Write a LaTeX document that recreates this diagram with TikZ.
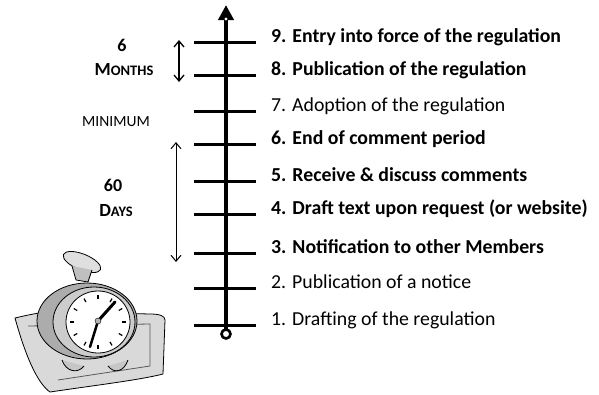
\documentclass[tikz,border=0pt]{standalone}
\usepackage{fontspec}
\setmainfont{Carlito}
\usetikzlibrary{arrows.meta,calc}

\tikzset{
  axisline/.style={line width=4pt, -{Triangle[length=15pt,width=15pt]}},
  tickline/.style={line width=3pt},
  steplabel/.style={anchor=base west, inner sep=0pt},
  spanarrow/.style={{Straight Barb[length=6pt,width=10pt]}-{Straight Barb[length=6pt,width=10pt]}, line width=1.3pt},
  sidelabel/.style={align=center, inner sep=0pt, font=\bfseries\fontsize{18}{20}\selectfont},
  clockline/.style={line width=0.8pt, line join=round}
}
\newcommand{\capword}[2]{{\fontsize{18.5}{20}\selectfont #1}{\fontsize{14.5}{16}\selectfont #2}}

\begin{document}
\begin{tikzpicture}[x=1pt, y=-1pt]
\useasboundingbox (0,0) rectangle (599,394);

% --- timeline axis ---
\coordinate (axbot) at (226,334);
\coordinate (axtop) at (226,5);
\draw[axisline] (axbot) -- (axtop);
\fill[white] (226,19) circle (1.6);

% --- ticks and step labels ---
\foreach \n/\y/\txt/\wt in {
    1/325/{1. Drafting of the regulation}/\mdseries,
    2/288/{2. Publication of a notice}/\mdseries,
    3/253/{3. Notification to other Members}/\bfseries,
    4/214/{4. Draft text upon request (or website)}/\bfseries,
    5/181/{5. Receive \& discuss comments}/\bfseries,
    6/144/{6. End of comment period}/\bfseries,
    7/111/{7. Adoption of the regulation}/\mdseries,
    8/75/{8. Publication of the regulation}/\bfseries,
    9/42/{9. Entry into force of the regulation}/\bfseries} {
  \coordinate (tl\n) at (194,\y);
  \coordinate (tr\n) at (256,\y);
  \draw[tickline] (tl\n) -- (tr\n);
  \node[steplabel, font=\wt\fontsize{19.8}{22}\selectfont] (step\n) at (271,\y) {\txt};
}

% bottom end of the axis
\node[circle, draw, line width=2.6pt, fill=white, minimum size=9pt, inner sep=0pt] (axend) at (axbot) {};

% --- spans on the left ---
\coordinate (m6top) at (179,40);
\coordinate (m6bot) at (179,82);
\draw[spanarrow] (m6top) -- (m6bot);
\coordinate (d60top) at (176,142);
\coordinate (d60bot) at (176,262);
\draw[spanarrow, line width=1pt] (d60top) -- (d60bot);

\node[sidelabel] (six) at (122,45) {6};
\node[sidelabel] (months) at (124,70) {\capword{M}{ONTHS}};
\node[sidelabel, font=\fontsize{15.5}{17}\selectfont] (minimum) at (116,122) {MINIMUM};
\node[sidelabel] (sixty) at (113,185) {60};
\node[sidelabel] (days) at (116,211) {\capword{D}{AYS}};

% --- alarm clock ---
% cushion under the clock
\filldraw[clockline, fill=gray!30] (15,318) .. controls (40,312) and (55,310) .. (70,312)
  -- (150,314) .. controls (160,314) and (165,316) .. (165,320)
  -- (163,374) .. controls (140,380) and (90,386) .. (50,392)
  .. controls (40,385) and (28,365) .. (15,318) -- cycle;
\draw[clockline, gray!70!black] (28,326) -- (150,324) -- (150,366) -- (58,380);
% feet
\filldraw[clockline, fill=gray!45] (62,360) .. controls (66,372) and (78,374) .. (84,366);
\filldraw[clockline, fill=gray!45] (108,366) .. controls (114,374) and (124,372) .. (128,360);
% bell on top
\filldraw[clockline, fill=gray!25, rotate around={-22:(82,262)}] (82,262) ellipse (20 and 8);
\filldraw[clockline, fill=gray!50] (72,266) -- (76,280) -- (88,282) -- (92,270);
% body rings
\filldraw[clockline, fill=gray!65] (87,321) ellipse (50 and 38);
\filldraw[clockline, fill=gray!40] (94,322) ellipse (41 and 35);
\filldraw[clockline, fill=white] (98,322) ellipse (32 and 31);
% dial marks
\foreach \a in {0,30,...,330}
  \draw[line width=1.2pt] ($(98,322)+(\a:24 and 23)$) -- ($(98,322)+(\a:28 and 27)$);
% hands
\draw[line width=3pt, line cap=round] (98,321) -- (115,302);
\draw[line width=2.5pt, line cap=round] (98,321) -- (90,347);
\filldraw[fill=gray!60] (98,321) circle (3);
\end{tikzpicture}
\end{document}
